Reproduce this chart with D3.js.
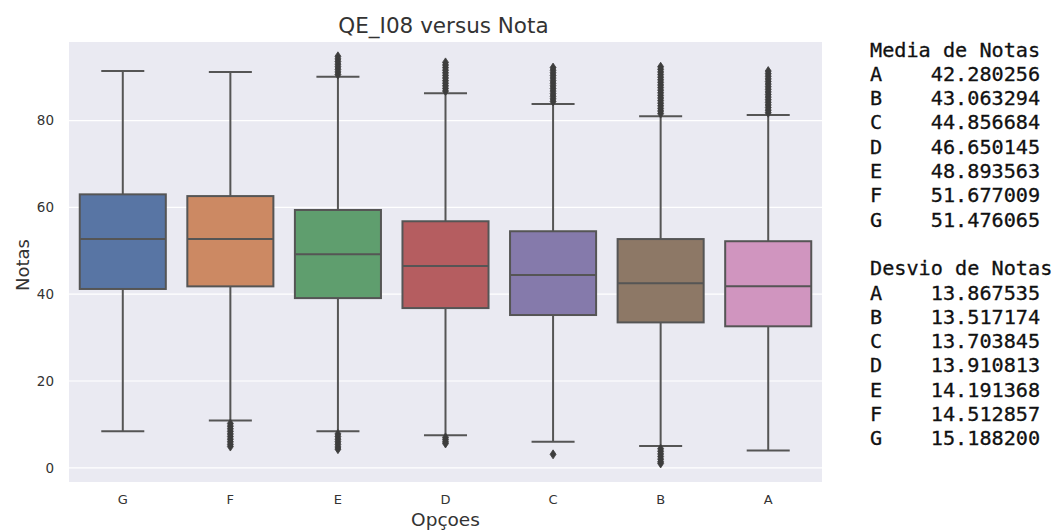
<!DOCTYPE html>
<html><head><meta charset="utf-8">
<script src="https://cdn.jsdelivr.net/npm/d3@7"></script>
<style>body{margin:0;background:#fff}svg{display:block}</style>
</head><body><svg id="c" width="1054" height="531"></svg>
<script>
const categories = ["G","F","E","D","C","B","A"];
const q1 =        [41.2, 41.8, 39.1, 36.8, 35.2, 33.5, 32.6];
const medians =   [52.7, 52.7, 49.2, 46.5, 44.4, 42.5, 41.8];
const q3 =        [63.0, 62.6, 59.4, 56.8, 54.5, 52.7, 52.2];
const whiskLow =  [8.4, 10.9, 8.4, 7.5, 6.0, 5.0, 4.0];
const whiskHigh = [91.4, 91.2, 90.1, 86.3, 83.8, 81.0, 81.3];
const outHigh = [
  [],
  [],
  [90.6, 91.2, 91.8, 92.4, 93.0, 93.6, 94.2, 94.8],
  [86.8, 87.4, 88.0, 88.6, 89.2, 89.8, 90.4, 91.0, 91.6, 92.2, 92.8, 93.4],
  [84.4, 85.0, 85.6, 86.2, 86.8, 87.4, 88.0, 88.6, 89.2, 89.8, 90.4, 91.0, 91.6, 92.2],
  [81.6, 82.2, 82.8, 83.4, 84.0, 84.6, 85.2, 85.8, 86.4, 87.0, 87.6, 88.2, 88.8, 89.4, 90.0, 90.6, 91.2, 91.8, 92.4],
  [81.8, 82.4, 83.0, 83.6, 84.2, 84.8, 85.4, 86.0, 86.6, 87.2, 87.8, 88.4, 89.0, 89.6, 90.2, 90.8, 91.4]
];
const outLow = [
  [],
  [10.2, 9.6, 9.0, 8.4, 7.8, 7.2, 6.6, 6.0, 5.4, 4.9],
  [7.8, 7.2, 6.6, 6.0, 5.4, 4.8, 4.3],
  [7.0, 6.5, 6.0, 5.6],
  [3.1],
  [4.4, 3.8, 3.2, 2.6, 2.0, 1.4, 1.0],
  []
];
const colors = ["#5875a4","#cc8963","#5f9e6e","#b55d60","#857aab","#8d7866","#d095bf"];
const yTicks = [0, 20, 40, 60, 80];
const statLetters = ["A","B","C","D","E","F","G"];
const means = ["42.280256","43.063294","44.856684","46.650145","48.893563","51.677009","51.476065"];
const stds  = ["13.867535","13.517174","13.703845","13.910813","14.191368","14.512857","15.188200"];

const svg = d3.select("#c");
const L = 69, R = 822, T = 42, B = 482;
const x = d3.scaleBand().domain(categories).range([L, R]).paddingInner(0).paddingOuter(0);
const y = d3.scaleLinear().domain([-3.27, 98.1]).range([B, T]);
const lineCol = "#555555";

svg.append("rect").attr("x", L).attr("y", T).attr("width", R - L).attr("height", B - T).attr("fill", "#eaeaf2");
const yAxis = d3.axisLeft(y).tickValues(yTicks).tickSize(0).tickPadding(15);
const gy = svg.append("g").attr("transform", `translate(${L},0)`).call(yAxis);
gy.select(".domain").remove();
gy.selectAll("text").attr("font-family", "DejaVu Sans").attr("font-size", 13.5).attr("fill", "#333");
svg.append("g").selectAll("line").data(yTicks).join("line")
  .attr("x1", L).attr("x2", R).attr("y1", d => y(d)).attr("y2", d => y(d))
  .attr("stroke", "#fff").attr("stroke-width", 1.2);

const xAxis = d3.axisBottom(x).tickSize(0).tickPadding(13);
const gx = svg.append("g").attr("transform", `translate(0,${B})`).call(xAxis);
gx.select(".domain").remove();
gx.selectAll("text").attr("font-family", "DejaVu Sans").attr("font-size", 13).attr("fill", "#333");

const bw = x.bandwidth() * 0.8;
const capW = bw * 0.5;
categories.forEach((c, i) => {
  const cx = x(c) + x.bandwidth() / 2;
  const g = svg.append("g");
  g.append("line").attr("x1", cx).attr("x2", cx).attr("y1", y(whiskHigh[i])).attr("y2", y(q3[i])).attr("stroke", lineCol).attr("stroke-width", 2);
  g.append("line").attr("x1", cx).attr("x2", cx).attr("y1", y(q1[i])).attr("y2", y(whiskLow[i])).attr("stroke", lineCol).attr("stroke-width", 2);
  g.append("line").attr("x1", cx - capW/2).attr("x2", cx + capW/2).attr("y1", y(whiskHigh[i])).attr("y2", y(whiskHigh[i])).attr("stroke", lineCol).attr("stroke-width", 2);
  g.append("line").attr("x1", cx - capW/2).attr("x2", cx + capW/2).attr("y1", y(whiskLow[i])).attr("y2", y(whiskLow[i])).attr("stroke", lineCol).attr("stroke-width", 2);
  g.append("rect").attr("x", cx - bw/2).attr("width", bw).attr("y", y(q3[i])).attr("height", y(q1[i]) - y(q3[i]))
    .attr("fill", colors[i]).attr("stroke", lineCol).attr("stroke-width", 2);
  g.append("line").attr("x1", cx - bw/2).attr("x2", cx + bw/2).attr("y1", y(medians[i])).attr("y2", y(medians[i])).attr("stroke", lineCol).attr("stroke-width", 2);
  const pts = outHigh[i].concat(outLow[i]);
  g.selectAll("path.o").data(pts).join("path").attr("class", "o")
    .attr("d", d => `M${cx},${y(d)-4.5}L${cx+3},${y(d)}L${cx},${y(d)+4.5}L${cx-3},${y(d)}Z`)
    .attr("fill", "#3d3d3d").attr("stroke", "#3d3d3d").attr("stroke-width", 0.8);
});

svg.append("text").attr("x", (L + R) / 2 - 2).attr("y", 33).attr("text-anchor", "middle")
  .attr("font-family", "DejaVu Sans").attr("font-size", 21.5).attr("fill", "#333").text("QE_I08 versus Nota");
svg.append("text").attr("x", (L + R) / 2).attr("y", 526).attr("text-anchor", "middle")
  .attr("font-family", "DejaVu Sans").attr("font-size", 18.5).attr("fill", "#333").text("Opçoes");
svg.append("text").attr("transform", `translate(29,${(T + B) / 2 + 3}) rotate(-90)`).attr("text-anchor", "middle")
  .attr("font-family", "DejaVu Sans").attr("font-size", 18).attr("fill", "#333").text("Notas");

const lines = ["Media de Notas"].concat(statLetters.map((l, i) => l + "    " + means[i]))
  .concat([""]).concat(["Desvio de Notas"]).concat(statLetters.map((l, i) => l + "    " + stds[i]));
svg.append("g").selectAll("text").data(lines).join("text")
  .attr("x", 870).attr("y", (d, i) => 56.5 + i * 24.3)
  .attr("font-family", "DejaVu Sans Mono").attr("font-size", 20.2).attr("fill", "#111")
  .attr("stroke", "#111").attr("stroke-width", 0.3)
  .attr("xml:space", "preserve").style("white-space", "pre").text(d => d);
</script></body></html>
